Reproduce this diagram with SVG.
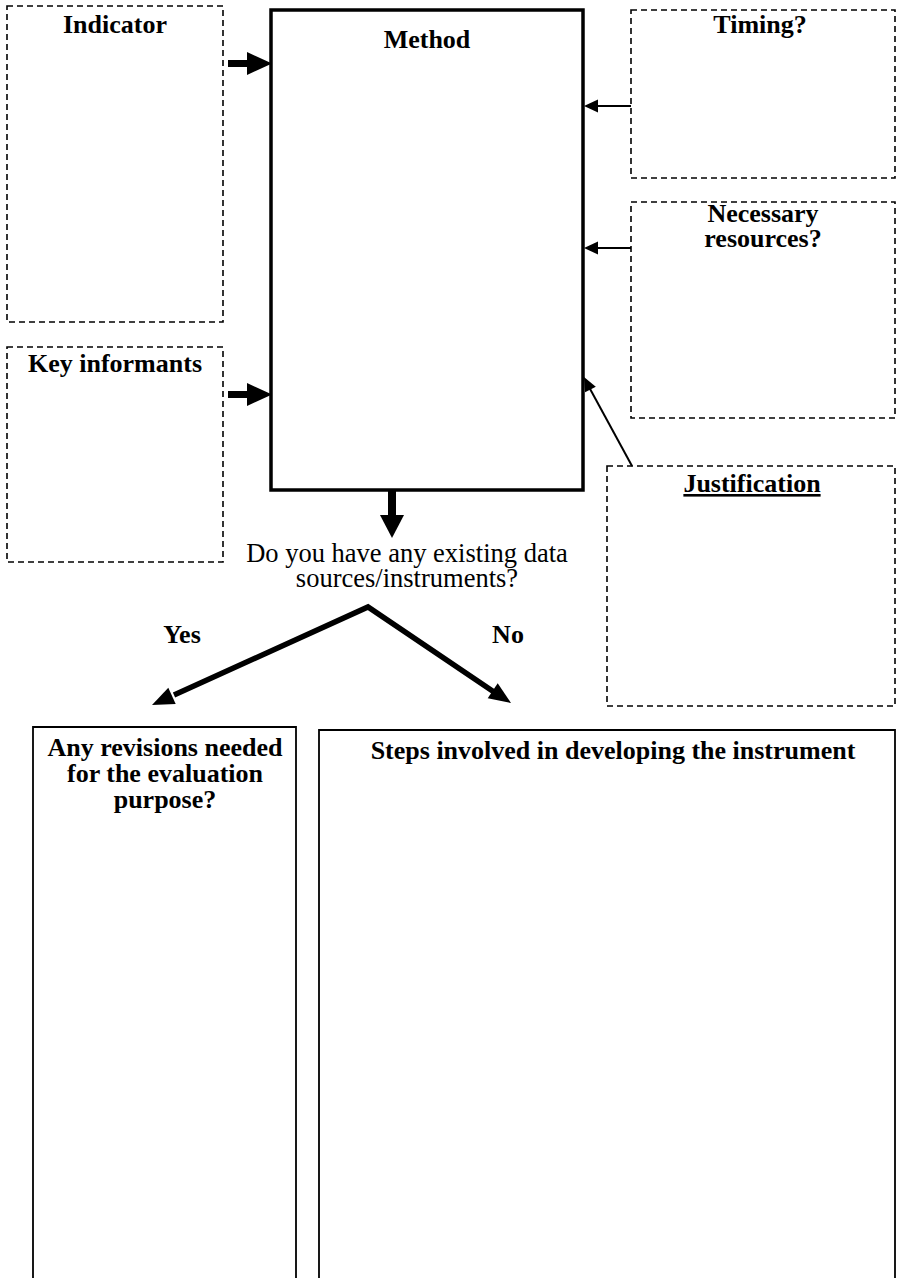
<svg xmlns="http://www.w3.org/2000/svg" width="902" height="1278" viewBox="0 0 902 1278">
<style>
.dash{fill:none;stroke:#000;stroke-width:1.6;stroke-dasharray:6 4}
.solid{fill:none;stroke:#000;stroke-width:1.8}
.main{fill:none;stroke:#000;stroke-width:3.5}
.lbl{font-family:"Liberation Serif","Times New Roman",serif;font-weight:bold;font-size:26px;fill:#000;text-anchor:middle}
.q{font-family:"Liberation Serif","Times New Roman",serif;font-size:26.5px;fill:#000;text-anchor:middle}
.thin{stroke:#000;stroke-width:2;fill:none}
.thick{stroke:#000;stroke-width:5.5;fill:none}
.head{fill:#000}
</style>
<rect width="902" height="1278" fill="#fff"/>
<g id="indicator">
<rect class="dash" x="7" y="6" width="216" height="316"/>
<text class="lbl" x="115" y="33">Indicator</text>
</g>
<g id="key-informants">
<rect class="dash" x="7" y="347" width="216" height="215"/>
<text class="lbl" x="115" y="372">Key informants</text>
</g>
<g id="method">
<rect class="main" x="271" y="10" width="312" height="480"/>
<text class="lbl" x="427" y="48">Method</text>
</g>
<g id="timing">
<rect class="dash" x="631" y="10" width="264" height="168"/>
<text class="lbl" x="760" y="33">Timing?</text>
</g>
<g id="resources">
<rect class="dash" x="631" y="202" width="264" height="216"/>
<text class="lbl" x="763" y="222">Necessary</text>
<text class="lbl" x="763" y="247">resources?</text>
</g>
<g id="justification">
<rect class="dash" x="607" y="466" width="288" height="240"/>
<text class="lbl" x="752" y="492" text-decoration="underline">Justification</text>
</g>
<g id="question">
<text class="q" x="407" y="562">Do you have any existing data</text>
<text class="q" x="407" y="587">sources/instruments?</text>
</g>
<g id="yes-label"><text class="lbl" x="182" y="643">Yes</text></g>
<g id="no-label"><text class="lbl" x="508" y="643">No</text></g>
<g id="revisions">
<path class="solid" d="M33,1280 V727 H296 V1280"/>
<text class="lbl" x="165" y="756">Any revisions needed</text>
<text class="lbl" x="165" y="782">for the evaluation</text>
<text class="lbl" x="165" y="808">purpose?</text>
</g>
<g id="steps">
<path class="solid" d="M319,1280 V730 H895 V1280"/>
<text class="lbl" x="613" y="759">Steps involved in developing the instrument</text>
</g>
<g id="connectors">
<rect x="228" y="60" width="21" height="7" class="head"/>
<polygon class="head" points="247,52 272,63.5 247,75"/>
<rect x="228" y="391" width="21" height="7" class="head"/>
<polygon class="head" points="247,383 272,394.5 247,406"/>
<rect x="388" y="491" width="8" height="26" class="head"/>
<polygon class="head" points="380,515 404,515 392,538"/>
<line class="thin" x1="631" y1="106" x2="595" y2="106"/>
<polygon class="head" points="584,106 598,99.5 598,112.5"/>
<line class="thin" x1="631" y1="248" x2="595" y2="248"/>
<polygon class="head" points="584,248 598,241.5 598,254.5"/>
<line class="thin" x1="632" y1="466" x2="589" y2="387"/>
<polygon class="head" points="584,377 595.8,386.7 585.1,392.2"/>
<polyline class="thick" points="174,695 368,607 494,692" stroke-linejoin="miter"/>
<polygon class="head" points="152,705 175.7,704.1 168.3,687.7"/>
<polygon class="head" points="511,703 487.7,698.2 497.7,683.3"/>
</g>
</svg>
